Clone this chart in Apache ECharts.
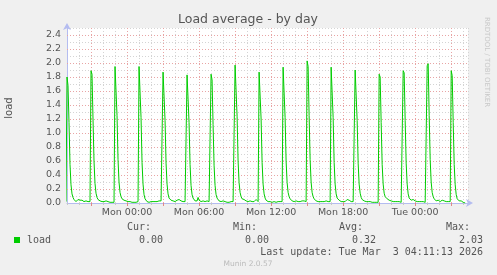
<!DOCTYPE html>
<html><head><meta charset="utf-8">
<script src="https://cdn.jsdelivr.net/npm/echarts@6/dist/echarts.min.js"></script>
<style>html,body{margin:0;padding:0;background:#f0f0f0}#c{width:497px;height:275px}</style>
</head><body><div id="c"></div>
<script>
// hours relative to Mon 00:00 at which each 2-hour cycle (spike) starts
const spikeHours = [-5, -3, -1, 1, 3, 5, 7, 9, 11, 13, 15, 17, 19, 21, 23, 25, 27];
// 5-minute samples of load for each cycle
const cycleLoad = [
  [1.80,1.68,1.15,0.55,0.26,0.13,0.08,0.05,0.03,0.02,0.04,0.05,0.03,0.04,0.06,0.04,0.03,0.02,0.02,0.03,0.02,0.02,0.02,0.02],
  [1.89,1.84,1.20,0.60,0.28,0.14,0.08,0.05,0.04,0.03,0.02,0.02,0.03,0.02,0.04,0.03,0.02,0.02,0.01,0.01,0.02,0.01,0.01,0.01],
  [1.95,1.97,1.25,0.62,0.30,0.15,0.09,0.06,0.05,0.04,0.05,0.03,0.02,0.02,0.03,0.02,0.02,0.01,0.02,0.01,0.01,0.01,0.01,0.02],
  [1.95,1.97,1.22,0.58,0.27,0.12,0.06,0.04,0.02,0.02,0.01,0.01,0.02,0.02,0.02,0.03,0.02,0.02,0.02,0.03,0.03,0.04,0.03,0.03],
  [1.87,1.85,1.18,0.57,0.27,0.13,0.07,0.05,0.04,0.03,0.03,0.04,0.02,0.03,0.04,0.03,0.05,0.04,0.03,0.03,0.02,0.02,0.02,0.02],
  [1.83,1.82,1.15,0.55,0.25,0.12,0.07,0.05,0.03,0.02,0.03,0.08,0.04,0.02,0.02,0.03,0.03,0.02,0.02,0.02,0.03,0.02,0.02,0.02],
  [1.84,1.76,1.12,0.54,0.25,0.12,0.07,0.05,0.03,0.02,0.02,0.02,0.03,0.02,0.02,0.01,0.01,0.02,0.01,0.01,0.02,0.02,0.02,0.01],
  [1.97,1.95,1.24,0.60,0.29,0.15,0.09,0.06,0.04,0.05,0.03,0.03,0.02,0.02,0.02,0.03,0.02,0.02,0.02,0.02,0.03,0.05,0.03,0.02],
  [1.87,1.88,1.20,0.58,0.27,0.13,0.07,0.04,0.03,0.02,0.02,0.02,0.02,0.01,0.02,0.02,0.01,0.01,0.02,0.02,0.01,0.02,0.02,0.02],
  [1.94,1.92,1.22,0.60,0.29,0.15,0.09,0.06,0.04,0.03,0.03,0.02,0.03,0.03,0.02,0.02,0.03,0.02,0.03,0.03,0.02,0.03,0.02,0.02],
  [2.03,1.95,1.25,0.62,0.30,0.15,0.09,0.06,0.04,0.03,0.03,0.02,0.02,0.02,0.03,0.02,0.02,0.02,0.02,0.03,0.02,0.02,0.02,0.02],
  [1.94,1.96,1.22,0.58,0.27,0.13,0.07,0.05,0.04,0.03,0.02,0.02,0.02,0.03,0.02,0.03,0.05,0.03,0.04,0.03,0.02,0.03,0.02,0.02],
  [1.90,1.88,1.18,0.57,0.27,0.14,0.08,0.05,0.04,0.03,0.03,0.02,0.02,0.02,0.02,0.02,0.02,0.01,0.01,0.01,0.01,0.01,0.01,0.01],
  [1.84,1.80,1.15,0.55,0.27,0.14,0.09,0.07,0.06,0.05,0.04,0.03,0.03,0.02,0.02,0.02,0.02,0.02,0.02,0.02,0.02,0.01,0.01,0.01],
  [1.89,1.86,1.18,0.57,0.27,0.13,0.07,0.05,0.04,0.03,0.05,0.03,0.03,0.02,0.02,0.02,0.02,0.02,0.02,0.02,0.02,0.02,0.01,0.01],
  [1.96,1.99,1.25,0.62,0.30,0.15,0.09,0.06,0.04,0.03,0.03,0.04,0.03,0.02,0.03,0.04,0.04,0.03,0.02,0.02,0.02,0.02,0.02,0.02],
  [1.89,1.82,1.15,0.55,0.26,0.12,0.06,0.04,0.03,0.04,0.03,0.02,0.01,0.01,0.00]
];
const preStart = [-5.0833, 0.02];          // sample just before the window (clipped)
const minorXHours = 1;                      // grey vertical grid every hour
const majorXHours = [-3, 0, 3, 6, 9, 12, 15, 18, 21, 24, 27];
const labelXHours = [0, 6, 12, 18, 24];
const labelXText = ['Mon 00:00', 'Mon 06:00', 'Mon 12:00', 'Mon 18:00', 'Tue 00:00'];
const yTicks = [0, 0.2, 0.4, 0.6, 0.8, 1.0, 1.2, 1.4, 1.6, 1.8, 2.0, 2.2, 2.4];
const legendHeads = ['Cur:', 'Min:', 'Avg:', 'Max:'];
const legendVals = ['0.00', '0.00', '0.32', '2.03'];

const data = [preStart];
spikeHours.forEach((h, k) => {
  cycleLoad[k].forEach((v, i) => data.push([h + i / 12, v]));
});

const FONT = 'DejaVu Sans';
const TXT = '#555';
const axisCol = '#b4bcf0';
const majorColor = '#e8a4a4';
const minorStyle = {color:'#d4d4d4', width:1, type:[1,2]};

const headX = [151, 257, 363, 470];
const valX = [163, 269, 376, 483];

const graphics = [
  {type:'text', style:{text:'Load average - by day', x:248, y:20, align:'center', verticalAlign:'middle', font:'12.5px "DejaVu Sans"', fill:TXT}},
  {type:'text', x:9, y:108, rotation:Math.PI/2, style:{text:'load', x:0, y:0, align:'center', verticalAlign:'middle', font:'10px "DejaVu Sans"', fill:TXT}},
  {type:'text', x:487, y:62, rotation:-Math.PI/2, style:{text:'RRDTOOL / TOBI OETIKER', x:0, y:0, align:'center', verticalAlign:'middle', font:'7px "DejaVu Sans"', fill:'#c8c8c8'}},
  {type:'rect', shape:{x:14, y:237, width:6, height:6}, style:{fill:'#00cc00'}},
  {type:'text', style:{text:'load', x:27, y:240, align:'left', verticalAlign:'middle', font:'10px "DejaVu Sans Mono"', fill:TXT}},
  {type:'text', style:{text:'Last update: Tue Mar  3 04:11:13 2026', x:483, y:252, align:'right', verticalAlign:'middle', font:'10px "DejaVu Sans Mono"', fill:TXT}},
  {type:'text', style:{text:'Munin 2.0.57', x:248, y:264, align:'center', verticalAlign:'middle', font:'7.5px "DejaVu Sans"', fill:'#bbbbbb'}}
];
legendHeads.forEach((t, i) => graphics.push({type:'text', style:{text:t, x:headX[i], y:227, align:'right', verticalAlign:'middle', font:'10px "DejaVu Sans Mono"', fill:TXT}}));
legendVals.forEach((t, i) => graphics.push({type:'text', style:{text:t, x:valX[i], y:240, align:'right', verticalAlign:'middle', font:'10px "DejaVu Sans Mono"', fill:TXT}}));

const majorLs = {color:majorColor, width:1, type:[1,2]};
const majorLines = majorXHours.map(h => ({xAxis:h, lineStyle:majorLs}))
  .concat(yTicks.filter(v => v > 0).map(v => ({yAxis:v, lineStyle:majorLs})));

const chart = echarts.init(document.getElementById('c'));
chart.setOption({
  backgroundColor: '#f0f0f0',
  animation: false,
  grid: {left:67, right:29, top:28, bottom:72, show:true, backgroundColor:'#ffffff', borderWidth:0},
  xAxis: [
    {type:'value', min:-5, max:28.4, interval:minorXHours, position:'bottom',
     axisLine:{show:false}, axisTick:{show:true, length:2, lineStyle:{color:'#c8c8c8'}}, axisLabel:{show:false},
     splitLine:{show:true, lineStyle:minorStyle}},
    {type:'value', min:-5, max:28.4, position:'bottom',
     axisLine:{show:true, onZero:false, lineStyle:{color:axisCol, width:1}, symbol:['none','arrow'], symbolSize:[6,7], symbolOffset:[0,5]},
     axisTick:{show:true, customValues:majorXHours, length:3, lineStyle:{color:'#e08888'}},
     axisLabel:{show:true, customValues:labelXHours, margin:5, fontSize:9.5, fontFamily:FONT, color:TXT,
       formatter:(v) => { const i = labelXHours.indexOf(Math.round(v)); return i >= 0 ? labelXText[i] : ''; }},
     splitLine:{show:false}}
  ],
  yAxis: [
    {type:'value', min:0, max:2.5, interval:0.1, position:'left',
     axisLine:{show:false}, axisTick:{show:false}, axisLabel:{show:false},
     splitLine:{show:true, lineStyle:minorStyle}},
    {type:'value', min:0, max:2.5, position:'left',
     axisLine:{show:true, onZero:false, lineStyle:{color:axisCol, width:1}, symbol:['none','arrow'], symbolSize:[6,7], symbolOffset:[0,5]},
     axisTick:{show:false},
     axisLabel:{show:true, customValues:yTicks, margin:6, fontSize:9.5, fontFamily:FONT, color:TXT,
       formatter:(v) => v.toFixed(1)},
     splitLine:{show:false}}
  ],
  series: [{
    type:'line', xAxisIndex:1, yAxisIndex:1, data:data, showSymbol:false, symbol:'none',
    lineStyle:{color:'#00cc00', width:1}, clip:true, z:5,
    markLine:{silent:true, symbol:['none','none'], label:{show:false}, lineStyle:majorLs,
      emphasis:{disabled:true}, animation:false, z:1, data:majorLines}
  }],
  graphic: graphics
});
</script></body></html>
